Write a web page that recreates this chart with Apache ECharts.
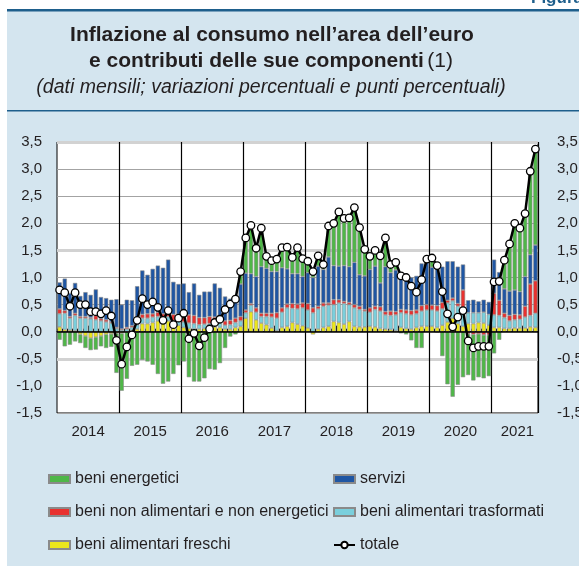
<!DOCTYPE html>
<html>
<head>
<meta charset="utf-8">
<script src="https://cdn.jsdelivr.net/npm/echarts@6.0.0/dist/echarts.min.js"></script>
<style>
html,body{margin:0;padding:0;background:#fff;}
#chart{width:579px;height:566px;}
</style>
</head>
<body>
<div id="chart"></div>
<script>
var years = ['2014','2015','2016','2017','2018','2019','2020','2021'];
var monthsLastYear = 9;

// contributi mensili (punti percentuali)
var freschi = [
  .09,.04,.03,.02,-.05,-.08,-.12,-.10,-.08,-.05,-.04,-.03,
  -.03,.00,.02,.05,.15,.15,.17,.20,.17,.20,.10,.12,
  .08,.06,.05,.05,.06,.07,.09,.08,.05,.05,.08,.10,
  .25,.37,.22,.16,.13,.07,.02,.08,.10,.17,.14,.11,
  .07,-.05,.05,.08,.10,.19,.17,.14,.19,.10,.09,.09,
  .10,.09,.06,.05,.04,.02,.08,.06,.05,.08,.10,.10,
  .10,.08,.12,.18,.25,.15,.10,.15,.15,.17,.16,.12,
  .08,.08,.06,.06,.07,.07,.07,.09,.08
];
var trasformati = [
  .24,.30,.22,.28,.25,.25,.24,.22,.20,.18,.16,.06,
  .03,.05,.06,.08,.10,.10,.10,.08,.08,.08,.10,.10,
  .10,.10,.10,.08,.08,.08,.08,.08,.07,.08,.09,.10,
  .10,.12,.14,.12,.15,.20,.23,.28,.34,.26,.28,.33,
  .33,.35,.37,.39,.39,.31,.36,.38,.31,.34,.32,.29,
  .26,.32,.32,.26,.26,.29,.27,.27,.26,.25,.28,.30,
  .30,.30,.30,.35,.32,.32,.30,.20,.20,.18,.20,.20,
  .23,.22,.20,.14,.15,.16,.20,.21,.26
];
var nonAlimentari = [
  .09,.05,.03,.04,.03,.03,.02,.08,.04,.04,.02,.02,
  .02,.03,.03,.04,.07,.08,.06,.08,.08,.08,.12,.10,
  .16,.15,.15,.13,.12,.13,.10,.09,.08,.08,.08,.08,
  .05,.03,.08,.06,.06,.07,.10,.08,.07,.09,.09,.09,
  .12,.09,.05,.06,.04,.09,.06,.04,.04,.06,.06,.03,
  .08,.06,.08,.06,.08,.06,.06,.07,.08,.07,.10,.10,
  .09,.10,.12,.05,.05,.05,.37,-.04,-.05,-.04,-.06,-.06,
  .40,.28,.08,.10,.10,.08,.20,.58,.60
];
var servizi = [
  .49,.59,.43,.56,.38,.45,.42,.48,.40,.40,.41,.52,
  .45,.51,.47,.67,.81,.72,.83,.86,.85,.97,.60,.56,
  .55,.42,.59,.42,.48,.46,.62,.56,.45,.40,.40,.60,
  .68,.55,.58,.86,.83,.77,.76,.74,.65,.55,.56,.49,
  .57,.56,.74,.62,.85,.63,.62,.66,.66,.78,.58,.62,
  .71,.74,.44,.83,.71,.77,.65,.65,.61,.63,.78,.78,
  .70,.75,.66,.72,.68,.68,.47,.23,.24,.21,.23,.23,
  .62,.52,.45,.45,.45,.43,.55,.54,.66
];
var energetici = [
  -.15,-.27,-.24,-.18,-.16,-.22,-.22,-.23,-.19,-.25,-.24,-.73,
  -1.06,-.87,-.63,-.61,-.52,-.55,-.61,-.78,-.96,-.92,-.78,-.62,
  -.55,-.84,-.92,-.92,-.86,-.69,-.70,-.58,-.30,-.09,-.05,.22,
  .65,.86,.52,.67,.22,.18,.22,.37,.39,.28,.43,.34,
  .21,.15,.20,.09,.57,.75,1.01,.87,.89,1.01,.87,.49,
  .25,.30,.51,.52,.15,.14,-.03,-.05,-.16,-.30,-.30,.04,
  .17,-.01,-.45,-.97,-1.20,-.98,-.84,-.76,-.85,-.80,-.80,-.76,
  -.40,-.15,.50,.87,1.23,1.17,1.16,1.54,1.77
];
var totale = [
  .77,.72,.47,.72,.50,.50,.37,.37,.33,.39,.29,-.16,
  -.60,-.28,-.06,.21,.61,.50,.55,.45,.21,.39,.13,.25,
  .34,-.13,-.03,-.26,-.11,.05,.17,.23,.41,.51,.60,1.11,
  1.73,1.96,1.54,1.91,1.39,1.31,1.34,1.55,1.56,1.37,1.55,1.35,
  1.30,1.11,1.40,1.24,1.95,2.00,2.21,2.09,2.10,2.29,1.92,1.52,
  1.39,1.50,1.40,1.73,1.24,1.28,1.03,1.00,.84,.73,.96,1.34,
  1.36,1.22,.74,.33,.09,.27,.39,-.17,-.30,-.27,-.27,-.27,
  .92,.93,1.32,1.62,2.00,1.91,2.18,2.96,3.37
];

var months = [];
years.forEach(function (y, k) {
  var n = k === years.length - 1 ? monthsLastYear : 12;
  for (var m = 1; m <= n; m++) months.push(y + '-' + (m < 10 ? '0' + m : m));
});

var FONT = '"Liberation Sans", Arial, Helvetica, sans-serif';
var TXT = '#231f20';
var fmt = function (v) { return v.toFixed(1).replace('.', ','); };

var myChart = echarts.init(document.getElementById('chart'));

function barSeries(name, data, color) {
  return {
    name: name, type: 'bar', stack: 'contributi', data: data,
    barCategoryGap: '18%',
    itemStyle: {color: color, borderColor: '#8a8a8a', borderWidth: 0.6},
    emphasis: {disabled: true}
  };
}

// riga a -0,5 più chiara e spessa (solo questa linea della griglia)
var halfLineColors = ['rgba(0,0,0,0)', 'rgba(0,0,0,0)', '#d2d2d2', 'rgba(0,0,0,0)'];

var legendText = {fontSize: 16, color: TXT, lineHeight: 18, fontFamily: FONT};

var option = {
  backgroundColor: '#d4e5ef',
  animation: false,
  textStyle: {fontFamily: FONT},
  graphic: [
    {type: 'rect', shape: {x: 0, y: 0, width: 579, height: 9}, style: {fill: '#fff'}},
    {type: 'rect', shape: {x: 0, y: 0, width: 7, height: 566}, style: {fill: '#fff'}},
    {type: 'rect', shape: {x: 7, y: 9, width: 572, height: 2.5}, style: {fill: '#1e5f8c'}},
    {type: 'rect', shape: {x: 7, y: 110, width: 572, height: 1.5}, style: {fill: '#1e5f8c'}},
    {type: 'text', x: 531, y: 7, style: {text: 'Figura', align: 'left', verticalAlign: 'bottom',
      font: 'bold 17px ' + FONT, fill: '#1e5f8c'}},
    {type: 'text', x: 272, y: 35, style: {text: 'Inflazione al consumo nell\u2019area dell\u2019euro',
      align: 'center', verticalAlign: 'middle', font: 'bold 21px ' + FONT, fill: TXT}},
    {type: 'text', x: 271, y: 61, style: {text: '{b|e contributi delle sue componenti} {r|(1)}',
      align: 'center', verticalAlign: 'middle', fill: TXT,
      rich: {b: {font: 'bold 21px ' + FONT, fill: TXT}, r: {font: '21px ' + FONT, fill: TXT}}}},
    {type: 'text', x: 271, y: 87.5, style: {text: '(dati mensili; variazioni percentuali e punti percentuali)',
      align: 'center', verticalAlign: 'middle', font: 'italic 19.5px ' + FONT, fill: TXT}}
  ],
  legend: [
    {
      orient: 'vertical', left: 48, top: 470, padding: 0,
      itemWidth: 21, itemHeight: 8, itemGap: 15,
      selectedMode: false, textStyle: legendText,
      data: [
        {name: 'beni energetici', icon: 'rect'},
        {name: 'beni non alimentari e non energetici', icon: 'rect'},
        {name: 'beni alimentari freschi', icon: 'rect'}
      ]
    },
    {
      orient: 'vertical', left: 333, top: 470, padding: 0,
      itemWidth: 21, itemHeight: 8, itemGap: 15,
      selectedMode: false, textStyle: legendText,
      data: [
        {name: 'servizi', icon: 'rect'},
        {name: 'beni alimentari trasformati', icon: 'rect'},
        {name: 'totale'}
      ]
    }
  ],
  grid: {
    left: 57, top: 142, width: 481, height: 271,
    outerBoundsMode: 'none',
    show: true, backgroundColor: '#fff', borderColor: '#000', borderWidth: 1
  },
  xAxis: [
    {
      type: 'category', data: months, boundaryGap: true,
      axisLine: {show: true, lineStyle: {color: '#000', width: 1}},
      axisTick: {show: true, inside: true, length: 3, interval: 0, lineStyle: {color: '#000'}},
      axisLabel: {
        interval: function (i) { return (i < 84 && i % 12 === 6) || i === 89; },
        formatter: function (v) { return v.slice(0, 4); },
        padding: [0, 5, 0, 0],
        margin: 11, fontSize: 15, color: TXT, fontFamily: FONT
      },
      splitLine: {
        show: true,
        interval: function (i) { return i > 0 && i % 12 === 0; },
        lineStyle: {color: '#000', width: 1.2}
      }
    },
    {
      type: 'category', data: months, boundaryGap: true, position: 'bottom',
      axisLine: {show: false},
      axisTick: {show: true, inside: true, length: 6,
        interval: function (i) { return i % 12 === 6; }, lineStyle: {color: '#000'}},
      axisLabel: {show: false},
      splitLine: {show: false}
    }
  ],
  yAxis: [
    {
      type: 'value', min: -1.5, max: 3.5, interval: 0.5, position: 'left',
      axisLine: {show: false}, axisTick: {show: false},
      axisLabel: {formatter: fmt, fontSize: 15, color: TXT, margin: 15, fontFamily: FONT},
      splitLine: {lineStyle: {color: ['#a3a3a3', '#a3a3a3', 'rgba(0,0,0,0)', '#a3a3a3',
        '#a3a3a3', '#a3a3a3', '#a3a3a3', '#a3a3a3', '#a3a3a3', '#a3a3a3', '#a3a3a3'], width: 1}}
    },
    {
      type: 'value', min: -1.5, max: 3.5, interval: 0.5, position: 'right',
      axisLine: {show: false}, axisTick: {show: false},
      axisLabel: {formatter: fmt, fontSize: 15, color: TXT, margin: 19, fontFamily: FONT},
      splitLine: {show: false}
    },
    {
      type: 'value', min: -1.5, max: 3.5, interval: 0.5, position: 'right',
      axisLine: {show: false}, axisTick: {show: false}, axisLabel: {show: false},
      splitLine: {lineStyle: {color: halfLineColors, width: 3}}
    }
  ],
  series: [
    barSeries('beni alimentari freschi', freschi, '#ebe61c'),
    barSeries('beni alimentari trasformati', trasformati, '#7acfdc'),
    barSeries('beni non alimentari e non energetici', nonAlimentari, '#e8312f'),
    barSeries('servizi', servizi, '#1f56a3'),
    barSeries('beni energetici', energetici, '#4fb748'),
    {
      name: 'totale', type: 'line', data: totale, z: 5,
      symbol: 'circle', symbolSize: 7.5, showSymbol: true, showAllSymbol: true,
      lineStyle: {color: '#000', width: 2.5},
      itemStyle: {color: '#fff', borderColor: '#000', borderWidth: 1.3},
      emphasis: {disabled: true},
      markLine: {silent: true, symbol: 'none', label: {show: false},
        lineStyle: {color: '#000', width: 1.5, type: 'solid'},
        data: [{yAxis: 0}]}
    }
  ]
};
myChart.setOption(option);
</script>
</body>
</html>
